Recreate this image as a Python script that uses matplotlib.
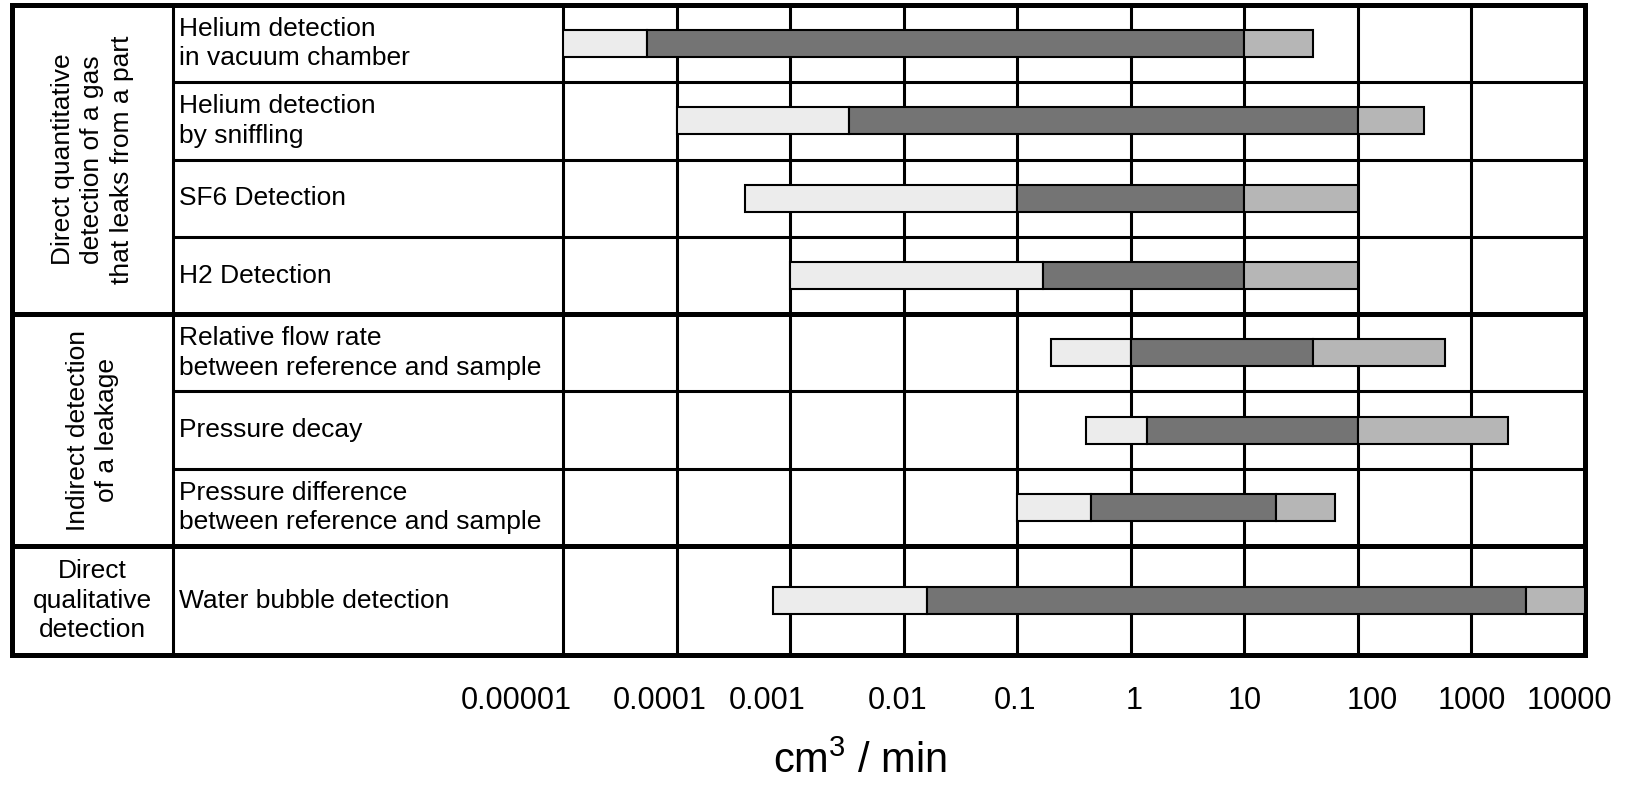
import numpy as np
import matplotlib.pyplot as plt
import matplotlib.transforms as mtransforms
from matplotlib.ticker import NullLocator

plt.rcParams['font.family'] = ['Liberation Sans', 'DejaVu Sans']
plt.rcParams['mathtext.fontset'] = 'custom'
plt.rcParams['mathtext.rm'] = 'Liberation Sans'

# groups of methods (left column) and how many rows each spans
groups = ['Direct quantitative\ndetection of a gas\nthat leaks from a part',
          'Indirect detection\nof a leakage',
          'Direct\nqualitative\ndetection']
group_sizes = [4, 3, 1]
group_rotation = [90, 90, 0]

methods = ['Helium detection\nin vacuum chamber',
           'Helium detection\nby sniffling',
           'SF6 Detection',
           'H2 Detection',
           'Relative flow rate\nbetween reference and sample',
           'Pressure decay',
           'Pressure difference\nbetween reference and sample',
           'Water bubble detection']

# leak rate ranges (cm3/min): start | light | low | dark | high | medium | end
range_start = [1e-5, 1e-4, 4e-4, 1e-3, 0.2, 0.4, 0.1, 7e-4]
range_low = [5.5e-5, 3.3e-3, 0.1, 0.17, 1, 1.4, 0.45, 0.016]
range_high = [10, 100, 10, 10, 40, 100, 19, 3000]
range_end = [40, 380, 100, 100, 580, 2100, 63, 10000]

tick_values = [1e-5, 1e-4, 1e-3, 1e-2, 1e-1, 1, 10, 100, 1000, 10000]
tick_labels = ['0.00001', '0.0001', '0.001', '0.01', '0.1', '1', '10', '100', '1000', '10000']

# ---- layout (pixels of the 1633x786 figure) ----
W, H = 1633, 786
tab_left, tab_right, tab_top, tab_bottom = 12, 1585, 5, 655
col_div = 173
chart_left = 563
row_h = np.array([1, 1, 1, 1, 1, 1, 1, 1.41])
edges = np.concatenate([[0], np.cumsum(row_h)])
centers = (edges[:-1] + edges[1:]) / 2
total = edges[-1]
# the tick labels in the original sit a bit off their grid lines (px)
label_shift = [-47, -17, -23, -6, -2, 3, 0, 14, 0, -16]

thin, thick = 2.2, 3.6

fig = plt.figure(figsize=(W / 100, H / 100), dpi=100)

# background axes for the table lines and texts (x in pixels)
tab = fig.add_axes([tab_left / W, 1 - tab_bottom / H,
                    (tab_right - tab_left) / W, (tab_bottom - tab_top) / H])
tab.set_xlim(tab_left, tab_right)
tab.set_ylim(total, 0)
tab.axis('off')

# chart axes (log scale) over the right part of the table
ax = fig.add_axes([chart_left / W, 1 - tab_bottom / H,
                   (tab_right - chart_left) / W, (tab_bottom - tab_top) / H])
ax.set_xscale('log')
ax.set_xlim(1e-5, 1e4)
ax.set_ylim(total, 0)
ax.patch.set_alpha(0)
for s in ax.spines.values():
    s.set_visible(False)
ax.set_yticks([])

# vertical grid lines
ax.vlines(tick_values[:-1], 0, total, color='black', lw=thin, zorder=1, clip_on=False)

# row lines
group_edges = np.concatenate([[0], np.cumsum(group_sizes)])
for i in range(1, len(methods)):
    if i in group_edges:
        tab.hlines(edges[i], tab_left, tab_right, color='black', lw=thick)
    else:
        tab.hlines(edges[i], col_div, tab_right, color='black', lw=thin)
tab.vlines(col_div, 0, total, color='black', lw=thin)
# outer border
tab.plot([tab_left, tab_right, tab_right, tab_left, tab_left],
         [0, 0, total, total, 0], color='black', lw=thick, clip_on=False,
         solid_joinstyle='miter')

# texts
for i, m in enumerate(methods):
    tab.text(col_div + 6, centers[i], m, ha='left', va='center', fontsize=19,
             linespacing=1.3)
for g, (lab, rot) in enumerate(zip(groups, group_rotation)):
    yc = (edges[group_edges[g]] + edges[group_edges[g + 1]]) / 2
    tab.text((tab_left + col_div) / 2, yc, lab, ha='center', va='center',
             rotation=rot, fontsize=19, linespacing=1.3, multialignment='center')

# bars
bar_h = 0.35
start = np.array(range_start)
low = np.array(range_low)
high = np.array(range_high)
end = np.array(range_end)
ax.barh(centers, low - start, left=start, height=bar_h, color='#ececec',
        edgecolor='black', lw=1.5, zorder=3)
ax.barh(centers, high - low, left=low, height=bar_h, color='#747474',
        edgecolor='black', lw=1.5, zorder=3)
ax.barh(centers, end - high, left=high, height=bar_h, color='#b6b6b6',
        edgecolor='black', lw=1.5, zorder=3)

# ticks and axis label
ax.set_xticks(tick_values, tick_labels, fontsize=22)
ax.xaxis.set_minor_locator(NullLocator())
ax.tick_params(axis='x', length=0, pad=22)
for lab, dx in zip(ax.get_xticklabels(), label_shift):
    lab.set_transform(lab.get_transform()
                      + mtransforms.ScaledTranslation(dx / 100, 0, fig.dpi_scale_trans))

fig.text(860 / W, 4 / H, 'cm$^3$ / min', fontsize=30, ha='center', va='bottom')

fig.savefig('out.png', dpi=100)
